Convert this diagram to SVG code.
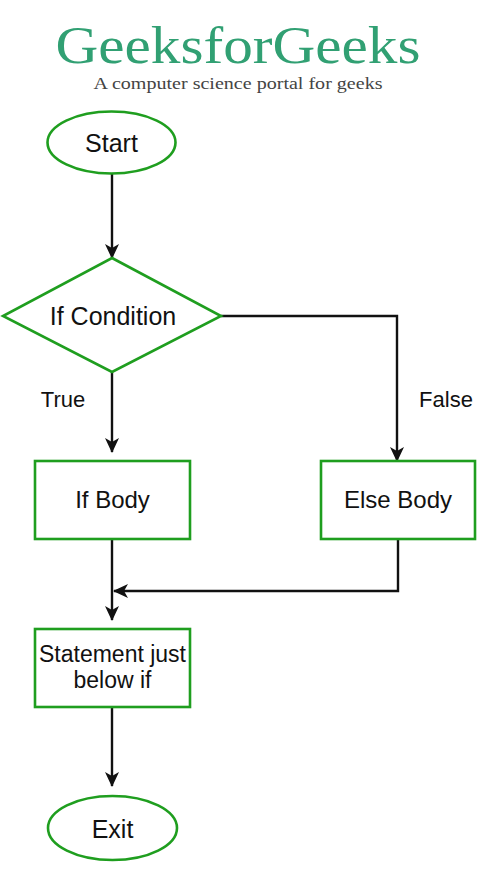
<svg xmlns="http://www.w3.org/2000/svg" width="493" height="891" viewBox="0 0 493 891">
<defs>
<style>
.node{fill:#fff;stroke:#1f9e1f;stroke-width:2.6}
.lbl{font-family:"Liberation Sans",Arial,sans-serif;fill:#111;text-anchor:middle}
.edge{fill:none;stroke:#111;stroke-width:2.4}
</style>
<marker id="arr" viewBox="0 0 15 14" markerWidth="15" markerHeight="14" refX="14" refY="7" orient="auto" markerUnits="userSpaceOnUse">
<path d="M0,0 L15,7 L0,14 L4,7 Z" fill="#111"/>
</marker>
</defs>
<rect width="493" height="891" fill="#fff"/>
<g id="header">
<text x="238" y="63" font-family="Liberation Serif,'Times New Roman',serif" font-size="53" fill="#31a073" text-anchor="middle" textLength="365" lengthAdjust="spacingAndGlyphs">GeeksforGeeks</text>
<text x="238" y="89" font-family="Liberation Serif,'Times New Roman',serif" font-size="16.5" fill="#444" text-anchor="middle" textLength="289" lengthAdjust="spacingAndGlyphs">A computer science portal for geeks</text>
</g>
<g id="connectors">
<line class="edge" x1="112" y1="174" x2="112" y2="258" marker-end="url(#arr)"/>
<line class="edge" x1="112" y1="372" x2="112" y2="452" marker-end="url(#arr)"/>
<polyline class="edge" points="221,316 397,316 397,461" marker-end="url(#arr)"/>
<line class="edge" x1="112" y1="539" x2="112" y2="620" marker-end="url(#arr)"/>
<polyline class="edge" points="398,539 398,591 114,591" marker-end="url(#arr)"/>
<line class="edge" x1="112" y1="707" x2="112" y2="786" marker-end="url(#arr)"/>
<text class="lbl" x="63" y="407" font-size="22">True</text>
<text class="lbl" x="446" y="407" font-size="22">False</text>
</g>
<g id="start">
<ellipse class="node" cx="111.5" cy="142.5" rx="64" ry="31"/>
<text class="lbl" x="111.5" y="152" font-size="25">Start</text>
</g>
<g id="condition">
<polygon class="node" points="112,258 221,316 112,372 3,316"/>
<text class="lbl" x="113" y="325" font-size="25">If Condition</text>
</g>
<g id="ifbody">
<rect class="node" x="35" y="461" width="155" height="78"/>
<text class="lbl" x="112.5" y="508" font-size="24">If Body</text>
</g>
<g id="elsebody">
<rect class="node" x="321" y="461" width="154" height="78"/>
<text class="lbl" x="398" y="508" font-size="24">Else Body</text>
</g>
<g id="statement">
<rect class="node" x="35" y="629" width="155" height="78"/>
<text class="lbl" x="112.5" y="662" font-size="23">Statement just</text>
<text class="lbl" x="112.5" y="688" font-size="23">below if</text>
</g>
<g id="exit">
<ellipse class="node" cx="112.5" cy="828" rx="64.5" ry="32"/>
<text class="lbl" x="112.5" y="838" font-size="25">Exit</text>
</g>
</svg>
